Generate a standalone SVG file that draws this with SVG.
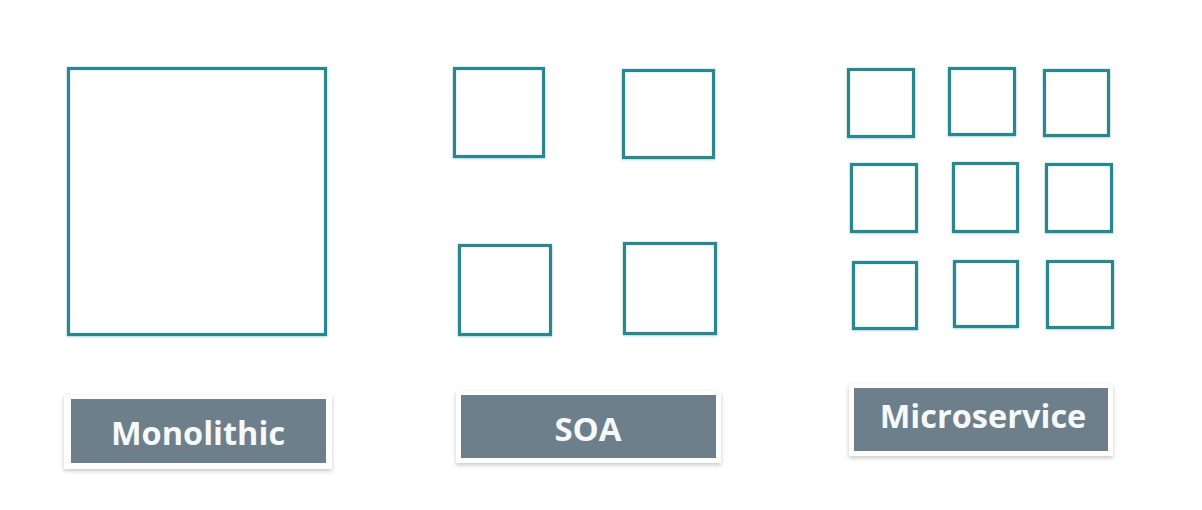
<svg xmlns="http://www.w3.org/2000/svg" width="1202" height="510" viewBox="0 0 1202 510">
<defs>
<filter id="glow" x="-10%" y="-10%" width="120%" height="120%">
<feDropShadow dx="0" dy="1" stdDeviation="1" flood-color="#5a9ea3" flood-opacity="0.35"/>
</filter>
<filter id="shadow" x="-10%" y="-20%" width="120%" height="150%">
<feDropShadow dx="0" dy="2" stdDeviation="2" flood-color="#000" flood-opacity="0.22"/>
</filter>
</defs>
<style>
.box{fill:#fff;stroke:#2a878d;stroke-width:3.2;filter:url(#glow)}
.frame{fill:#fff;filter:url(#shadow)}
.lbl{fill:#6c7f8b}
.txt{fill:#f6f8f9;font-family:"Open Sans","DejaVu Sans",sans-serif;font-weight:bold;text-anchor:middle}
</style>
<rect width="1202" height="510" fill="#fff"/>
<g id="monolithic">
<rect class="box" x="68.5" y="68.5" width="257" height="266"/>
</g>
<g id="soa">
<rect class="box" x="454.5" y="68.5" width="89" height="88"/>
<rect class="box" x="623.5" y="70.5" width="90" height="87"/>
<rect class="box" x="459.5" y="245.5" width="91" height="89"/>
<rect class="box" x="624.5" y="243.5" width="91" height="90"/>
</g>
<g id="microservice">
<rect class="box" x="848.5" y="69.5" width="65" height="67"/>
<rect class="box" x="949.5" y="68.5" width="65" height="66"/>
<rect class="box" x="1044.5" y="70.5" width="64" height="65"/>
<rect class="box" x="851.5" y="164.5" width="65" height="67"/>
<rect class="box" x="953.5" y="163.5" width="64" height="68"/>
<rect class="box" x="1046.5" y="164.5" width="65" height="67"/>
<rect class="box" x="853.5" y="262.5" width="63" height="66"/>
<rect class="box" x="954.5" y="261.5" width="63" height="65"/>
<rect class="box" x="1047.5" y="261.5" width="65" height="66"/>
</g>
<g id="label-monolithic">
<rect class="frame" x="64" y="395" width="268" height="74"/>
<rect class="lbl" x="71" y="399" width="255" height="64"/>
<text class="txt" x="198" y="445" font-size="32.5">Monolithic</text>
</g>
<g id="label-soa">
<rect class="frame" x="456" y="391" width="265" height="72"/>
<rect class="lbl" x="461" y="395" width="255" height="63"/>
<text class="txt" x="588" y="441" font-size="33">SOA</text>
</g>
<g id="label-microservice">
<rect class="frame" x="849" y="384" width="264" height="72"/>
<rect class="lbl" x="854" y="388" width="254" height="63"/>
<text class="txt" x="983" y="428" font-size="32.5">Microservice</text>
</g>
<g id="connectors"/>
</svg>
